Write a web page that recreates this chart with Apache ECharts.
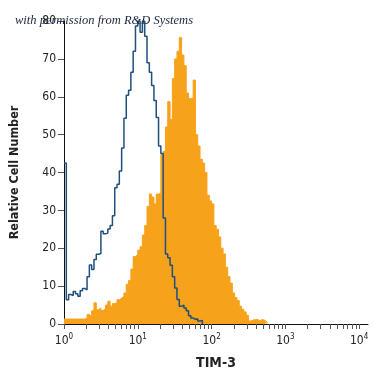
<!DOCTYPE html>
<html>
<head>
<meta charset="utf-8">
<script src="https://cdn.jsdelivr.net/npm/echarts@6/dist/echarts.min.js"></script>
<style>
  html, body { margin: 0; padding: 0; background: #fff; }
  #chart { width: 375px; height: 375px; }
</style>
</head>
<body>
<div id="chart"></div>
<script>
// histogram channels, 32 bins per decade on a log10 scale
var binsPerDecade = 32;
var decadeLabels = [0, 1, 2, 3, 4];          // 10^0 .. 10^4
var minorSteps = [2, 3, 4, 5, 6, 7, 8, 9];   // minor log ticks

// isotype control (blue outline)
var controlCounts = [
    42.5, 6.4, 7.8, 7.5, 8.6, 8.0, 7.3, 8.8, 9.4, 9.0,
    12.5, 15.6, 14.4, 17.0, 18.4, 18.6, 24.5, 23.8, 24.0, 25.1,
    26.0, 28.6, 36.0, 36.9, 40.4, 46.5, 54.3, 60.4, 61.7, 66.5,
    72.0, 78.7, 80, 77, 80, 76, 69, 66.5, 63, 59,
    54.5, 47, 45, 28, 18.5, 17.5, 15.5, 12.5, 9.5, 6.5,
    4.7, 5.0, 4.2, 3.5, 2.2, 1.6, 1.2, 1.4, 0.8, 0.9
];

// TIM-3 stained cells (orange fill)
var tim3Counts = [
    1.3, 1.3, 1.3, 1.3, 1.3, 1.3, 1.3, 1.3, 1.3, 1.5,
    2.5, 2.0, 3.5, 5.6, 3.8, 4.2, 3.6, 4.0, 5.0, 6.0,
    4.7, 5.4, 5.6, 6.4, 6.8, 7.3, 8.2, 10.5, 11.5, 14.5,
    17.8, 18.3, 19.5, 20.4, 23.5, 26, 31, 34.3, 33.5, 31.7,
    34.3, 34.6, 44.7, 45.6, 52, 58.7, 54, 64.8, 70, 72,
    75.6, 71, 68.2, 61, 59.5, 59.5, 64.4, 50, 47, 43.5,
    42.5, 40, 34, 32.5, 31.7, 26, 25, 23, 20, 18.5,
    15, 12.5, 10.8, 8.2, 7.0, 6.2, 4.7, 3.9, 3.2, 2.3,
    0.8, 1.0, 1.2, 1.2, 0.8, 1.2, 1.0, 0.5
];

var yTicks = [0, 10, 20, 30, 40, 50, 60, 70, 80];

var fontNarrow = "'DejaVu Sans Condensed', 'Liberation Sans Narrow', sans-serif";

function toSteps(counts) {
    var pts = counts.map(function(v, i) { return [i / binsPerDecade, v]; });
    pts.push([counts.length / binsPerDecade, 0]);
    return pts;
}

var tickValues = [];
decadeLabels.forEach(function(d) {
    tickValues.push(d);
    if (d < 4) {
        minorSteps.forEach(function(m) { tickValues.push(d + Math.log10(m)); });
    }
});

var chart = echarts.init(document.getElementById('chart'));

var option = {
    animation: false,
    title: {
        text: 'with permission from R&D Systems',
        left: 10,
        top: 9,
        textStyle: {
            fontFamily: "'Liberation Serif', 'DejaVu Serif', serif",
            fontStyle: 'italic',
            fontWeight: 'normal',
            fontSize: 12.5,
            color: '#1b2440'
        }
    },
    grid: {
        left: 56,
        right: 7,
        top: 21,
        bottom: 47,
        containLabel: false
    },
    xAxis: {
        type: 'value',
        min: 0,
        max: 4.12,
        name: 'TIM-3',
        nameLocation: 'middle',
        nameGap: 32,
        nameTextStyle: {
            fontFamily: fontNarrow,
            fontWeight: 'bold',
            fontSize: 14,
            color: '#222'
        },
        splitLine: { show: false },
        axisLine: { lineStyle: { color: '#111', width: 1 } },
        axisTick: {
            length: 5,
            lineStyle: { color: '#555' },
            customValues: tickValues
        },
        axisLabel: {
            margin: 9,
            customValues: decadeLabels,
            formatter: function(v) {
                return '{b|10}{s|' + Math.round(v) + '}';
            },
            rich: {
                b: { fontFamily: fontNarrow, fontSize: 12, color: '#222', verticalAlign: 'bottom' },
                s: { fontFamily: fontNarrow, fontSize: 8, color: '#222', verticalAlign: 'top', padding: [0, 0, 6, 0] }
            }
        }
    },
    yAxis: {
        type: 'value',
        min: 0,
        max: 80,
        interval: 10,
        name: 'Relative Cell Number',
        nameLocation: 'middle',
        nameGap: 43,
        nameRotate: 90,
        nameTextStyle: {
            fontFamily: fontNarrow,
            fontWeight: 'bold',
            fontSize: 12.5,
            color: '#222'
        },
        splitLine: { show: false },
        axisLine: { show: true, lineStyle: { color: '#111', width: 1 } },
        axisTick: { show: true, length: 6, lineStyle: { color: '#555' } },
        axisLabel: {
            margin: 8,
            fontFamily: fontNarrow,
            fontSize: 12,
            color: '#222',
            customValues: yTicks
        }
    },
    series: [
        {
            name: 'TIM-3',
            type: 'line',
            step: 'end',
            symbol: 'none',
            data: toSteps(tim3Counts),
            lineStyle: { color: '#f7a21b', width: 1 },
            areaStyle: { color: '#f7a21b', opacity: 1 },
            z: 2
        },
        {
            name: 'Isotype control',
            type: 'line',
            step: 'end',
            symbol: 'none',
            data: toSteps(controlCounts),
            lineStyle: { color: '#1f4f7e', width: 1.5 },
            z: 3
        }
    ]
};

chart.setOption(option);
</script>
</body>
</html>
